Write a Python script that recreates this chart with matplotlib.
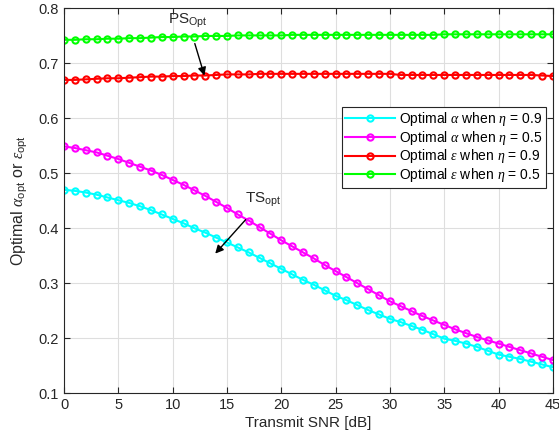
import numpy as np
import matplotlib
matplotlib.use("Agg")
import matplotlib.pyplot as plt

plt.rcParams['font.family'] = ['Liberation Sans', 'DejaVu Sans']
plt.rcParams['mathtext.fontset'] = 'custom'
plt.rcParams['mathtext.rm'] = 'Liberation Sans'
plt.rcParams['mathtext.it'] = 'Liberation Serif:italic'
plt.rcParams['mathtext.fallback'] = 'stixsans'

# data
snr_db = list(range(0, 46))
alpha_eta09 = [0.470, 0.468, 0.465, 0.461, 0.456, 0.451, 0.446, 0.440, 0.433, 0.425,
               0.417, 0.409, 0.400, 0.392, 0.383, 0.374, 0.365, 0.356, 0.346, 0.336,
               0.326, 0.316, 0.306, 0.297, 0.287, 0.277, 0.269, 0.260, 0.251, 0.243,
               0.235, 0.229, 0.222, 0.215, 0.207, 0.199, 0.195, 0.190, 0.184, 0.177,
               0.170, 0.166, 0.162, 0.157, 0.152, 0.147]
alpha_eta05 = [0.549, 0.546, 0.542, 0.538, 0.532, 0.526, 0.519, 0.512, 0.505, 0.497,
               0.488, 0.479, 0.469, 0.459, 0.448, 0.437, 0.425, 0.414, 0.402, 0.390,
               0.378, 0.367, 0.356, 0.345, 0.333, 0.322, 0.311, 0.300, 0.289, 0.278,
               0.267, 0.258, 0.249, 0.240, 0.232, 0.224, 0.216, 0.209, 0.202, 0.196,
               0.190, 0.184, 0.178, 0.172, 0.166, 0.160]
eps_eta09 = [0.670, 0.670, 0.671, 0.672, 0.673, 0.673, 0.674, 0.675, 0.676, 0.676,
             0.677, 0.677, 0.678, 0.678, 0.679, 0.680, 0.680, 0.680, 0.681, 0.681,
             0.681, 0.681, 0.681, 0.681, 0.681, 0.681, 0.681, 0.681, 0.681, 0.681,
             0.681, 0.679, 0.679, 0.679, 0.679, 0.679, 0.679, 0.679, 0.679, 0.679,
             0.679, 0.679, 0.679, 0.679, 0.678, 0.677]
eps_eta05 = [0.743, 0.743, 0.744, 0.744, 0.745, 0.745, 0.746, 0.746, 0.747, 0.748,
             0.748, 0.749, 0.749, 0.750, 0.750, 0.750, 0.751, 0.751, 0.751, 0.751,
             0.751, 0.752, 0.752, 0.752, 0.752, 0.752, 0.752, 0.752, 0.752, 0.752,
             0.752, 0.752, 0.752, 0.752, 0.752, 0.753, 0.753, 0.753, 0.753, 0.753,
             0.753, 0.753, 0.753, 0.753, 0.753, 0.753]

labels = [r'Optimal $\alpha$ when $\eta$ = 0.9',
          r'Optimal $\alpha$ when $\eta$ = 0.5',
          r'Optimal $\epsilon$ when $\eta$ = 0.9',
          r'Optimal $\epsilon$ when $\eta$ = 0.5']

axcol = '#262626'
fig = plt.figure(figsize=(5.59, 4.47), dpi=100)
ax = fig.add_axes([0.1145, 0.1208, 0.8745, 0.8602])

series = [alpha_eta09, alpha_eta05, eps_eta09, eps_eta05]
colors = ['#00ffff', '#ff00ff', '#ff0000', '#00ff00']
for s, c, lab in zip(series, colors, labels):
    ax.plot(snr_db, s, '-o', color=c, lw=1.5, ms=4.5, mfc='none', mec=c, mew=1.5, label=lab)

ax.set_xlim(0, 45)
ax.set_ylim(0.1, 0.8)
ax.set_xticks(range(0, 46, 5))
ax.set_yticks(np.arange(0.1, 0.81, 0.1))
ax.set_yticklabels(['0.1', '0.2', '0.3', '0.4', '0.5', '0.6', '0.7', '0.8'])
ax.grid(True, color='#dedede', lw=0.8)
ax.tick_params(direction='in', top=True, right=True, labelsize=10.5, colors=axcol, length=4)
for sp in ax.spines.values():
    sp.set_color(axcol)
    sp.set_linewidth(0.8)

ax.set_xlabel('Transmit SNR [dB]', fontsize=11, color=axcol, labelpad=3)
ax.set_ylabel(r'Optimal $\alpha_{\rm opt}$ or $\epsilon_{\rm opt}$', fontsize=11.5,
              color=axcol, labelpad=6)

ax.annotate(r'PS$_{\rm Opt}$', xy=(13.0, 0.673), xytext=(9.6, 0.777),
            fontsize=11, color=axcol, va='center',
            arrowprops=dict(arrowstyle='-|>', color='black', lw=1, mutation_scale=12,
                            shrinkA=8))
ax.annotate(r'TS$_{\rm opt}$', xy=(13.75, 0.350), xytext=(16.7, 0.452),
            fontsize=11, color=axcol, va='center',
            arrowprops=dict(arrowstyle='-|>', color='black', lw=1, mutation_scale=12,
                            shrinkA=8))

leg = ax.legend(loc='upper left', bbox_to_anchor=(0.568, 0.745), fontsize=10,
                frameon=True, fancybox=False, framealpha=1, borderpad=0.25,
                labelspacing=0.05, handlelength=3.6, handletextpad=0.3, borderaxespad=0)
leg.get_frame().set_edgecolor(axcol)
leg.get_frame().set_linewidth(0.8)

fig.savefig('out.png', dpi=100)
